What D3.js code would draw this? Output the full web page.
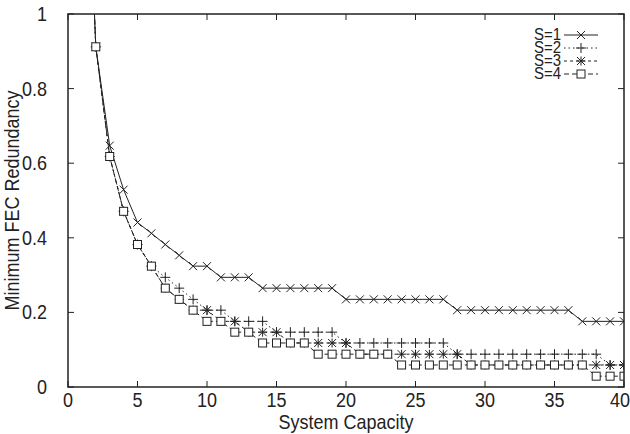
<!DOCTYPE html>
<html>
<head>
<meta charset="utf-8">
<script src="https://cdn.jsdelivr.net/npm/d3@7"></script>
<style>
  html, body { margin: 0; padding: 0; background: #fff; overflow: hidden; }
  text { font-family: "Liberation Sans", Arial, Helvetica, sans-serif; fill: #222; }
</style>
</head>
<body>
<svg width="630" height="434"></svg>
<script>
// system capacity (x)
var capacity = d3.range(1, 41);

// minimum FEC redundancy, one per capacity value
var s1 = [1.82, 0.912, 0.647, 0.529, 0.441, 0.412, 0.382, 0.353, 0.324, 0.324,
          0.294, 0.294, 0.294, 0.265, 0.265, 0.265, 0.265, 0.265, 0.265, 0.235,
          0.235, 0.235, 0.235, 0.235, 0.235, 0.235, 0.235, 0.206, 0.206, 0.206,
          0.206, 0.206, 0.206, 0.206, 0.206, 0.206, 0.176, 0.176, 0.176, 0.176];
var s2 = [1.82, 0.912, 0.618, 0.471, 0.382, 0.324, 0.294, 0.265, 0.235, 0.206,
          0.206, 0.176, 0.176, 0.176, 0.147, 0.147, 0.147, 0.147, 0.147, 0.118,
          0.118, 0.118, 0.118, 0.118, 0.118, 0.118, 0.118, 0.088, 0.088, 0.088,
          0.088, 0.088, 0.088, 0.088, 0.088, 0.088, 0.088, 0.088, 0.059, 0.059];
var s3 = [1.82, 0.912, 0.618, 0.471, 0.382, 0.324, 0.265, 0.235, 0.206, 0.206,
          0.176, 0.176, 0.147, 0.147, 0.147, 0.118, 0.118, 0.118, 0.118, 0.118,
          0.088, 0.088, 0.088, 0.088, 0.088, 0.088, 0.088, 0.088, 0.059, 0.059,
          0.059, 0.059, 0.059, 0.059, 0.059, 0.059, 0.059, 0.059, 0.059, 0.059];
var s4 = [1.82, 0.912, 0.618, 0.471, 0.382, 0.324, 0.265, 0.235, 0.206, 0.176,
          0.176, 0.147, 0.147, 0.118, 0.118, 0.118, 0.118, 0.088, 0.088, 0.088,
          0.088, 0.088, 0.088, 0.059, 0.059, 0.059, 0.059, 0.059, 0.059, 0.059,
          0.059, 0.059, 0.059, 0.059, 0.059, 0.059, 0.059, 0.029, 0.029, 0.029];

var seriesNames = ["S=1", "S=2", "S=3", "S=4"];
var xTicks = [0, 5, 10, 15, 20, 25, 30, 35, 40];
var yTicks = [0, 0.2, 0.4, 0.6, 0.8, 1];

var svg = d3.select("svg"),
    pl = 68, pr = 624, pt = 14, pb = 387,
    ink = "#222";

var x = d3.scaleLinear().domain([0, 40]).range([pl, pr]);
var y = d3.scaleLinear().domain([0, 1]).range([pb, pt]);

// text in the original is a bit taller than wide
function stretched(sel, k) {
  sel.each(function() {
    var t = d3.select(this);
    var px = +t.attr("x"), py = +t.attr("y");
    t.attr("x", 0).attr("y", 0)
     .attr("transform", "translate(" + px + "," + py + ") scale(1," + (k || 1.15) + ")");
  });
}

svg.append("clipPath").attr("id", "plot")
  .append("rect").attr("x", pl).attr("y", pt)
  .attr("width", pr - pl).attr("height", pb - pt);

// ticks on all four sides, pointing in
var axes = svg.append("g").attr("stroke", ink).attr("stroke-width", 1);
xTicks.forEach(function(t) {
  axes.append("line").attr("x1", x(t)).attr("x2", x(t)).attr("y1", pb).attr("y2", pb - 6);
  axes.append("line").attr("x1", x(t)).attr("x2", x(t)).attr("y1", pt).attr("y2", pt + 6);
});
yTicks.forEach(function(t) {
  axes.append("line").attr("x1", pl).attr("x2", pl + 6).attr("y1", y(t)).attr("y2", y(t));
  axes.append("line").attr("x1", pr).attr("x2", pr - 6).attr("y1", y(t)).attr("y2", y(t));
});

svg.selectAll(".xl").data(xTicks).enter().append("text")
  .attr("class", "xl")
  .attr("x", function(d) { return Math.min(x(d), 620); }).attr("y", 407)
  .attr("text-anchor", "middle").attr("font-size", 18)
  .text(function(d) { return d; })
  .call(stretched);

svg.selectAll(".yl").data(yTicks).enter().append("text")
  .attr("class", "yl")
  .attr("x", 47).attr("y", function(d) { return y(d) + 7; })
  .attr("text-anchor", "end").attr("font-size", 18)
  .text(function(d) { return d; })
  .call(stretched);

svg.append("text")
  .attr("x", (pl + pr) / 2).attr("y", 429)
  .attr("text-anchor", "middle").attr("font-size", 18)
  .text("System Capacity")
  .call(stretched);

svg.append("text")
  .attr("transform", "translate(19," + ((pt + pb) / 2) + ") rotate(-90) scale(1,1.15)")
  .attr("text-anchor", "middle").attr("font-size", 18)
  .text("Minimum FEC Redundancy");

// series
var dashes = [null, "1.5,3", "3,3", "5,3"];
var data = [s1, s2, s3, s4].map(function(vals, i) {
  return { name: seriesNames[i], dash: dashes[i], kind: i,
           pts: capacity.map(function(c, j) { return [c, vals[j]]; }) };
});

var line = d3.line().x(function(d) { return x(d[0]); }).y(function(d) { return y(d[1]); });

function marker(g, kind, cx, cy) {
  var r = 4;
  if (kind === 0 || kind === 2) {
    g.append("path").attr("d", "M" + (cx - r) + "," + (cy - r) + "L" + (cx + r) + "," + (cy + r) +
      "M" + (cx - r) + "," + (cy + r) + "L" + (cx + r) + "," + (cy - r))
      .attr("stroke", ink).attr("fill", "none");
  }
  if (kind === 1 || kind === 2) {
    var q = kind === 2 ? 4.5 : 5;
    g.append("path").attr("d", "M" + (cx - q) + "," + cy + "L" + (cx + q) + "," + cy +
      "M" + cx + "," + (cy - q) + "L" + cx + "," + (cy + q))
      .attr("stroke", ink).attr("fill", "none");
  }
  if (kind === 3) {
    g.append("rect").attr("x", cx - 4).attr("y", cy - 4).attr("width", 8).attr("height", 8)
      .attr("stroke", ink).attr("fill", "#fff");
  }
}

var plot = svg.append("g").attr("clip-path", "url(#plot)");
data.forEach(function(s) {
  var g = plot.append("g");
  g.append("path").datum(s.pts)
    .attr("d", line).attr("fill", "none")
    .attr("stroke", ink).attr("stroke-width", 1)
    .attr("stroke-dasharray", s.dash);
  s.pts.forEach(function(p) {
    if (p[1] <= 1) marker(g, s.kind, x(p[0]), y(p[1]));
  });
});

// frame
svg.append("rect").attr("x", pl).attr("y", pt)
  .attr("width", pr - pl).attr("height", pb - pt)
  .attr("fill", "none").attr("stroke", ink).attr("stroke-width", 1.5);

// legend
var legend = svg.append("g");
data.forEach(function(s, i) {
  var ly = 35 + i * 13;
  legend.append("text").attr("x", 561).attr("y", ly + 5)
    .attr("text-anchor", "end").attr("font-size", 15).text(s.name)
    .call(stretched, 1.05);
  legend.append("line").attr("x1", 564).attr("x2", 598).attr("y1", ly).attr("y2", ly)
    .attr("stroke", ink).attr("stroke-dasharray", s.dash);
  marker(legend, s.kind, 581, ly);
});
</script>
</body>
</html>
